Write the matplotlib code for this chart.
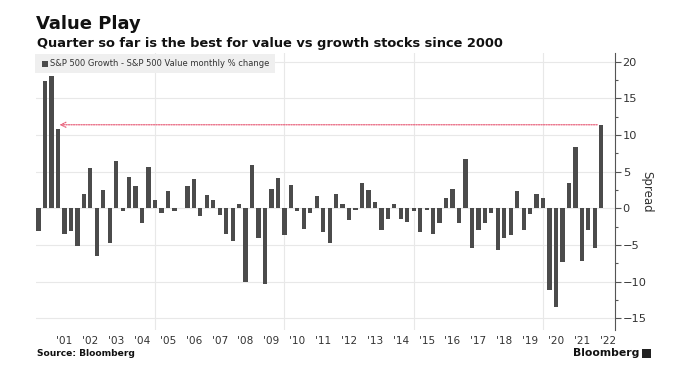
import numpy as np
import pandas as pd
import matplotlib
matplotlib.use("Agg")
import matplotlib.pyplot as plt
import matplotlib.patches as mpatches

# quarterly spread, S&P 500 Growth - S&P 500 Value (%), 2000Q2 .. 2022Q1
quarters = pd.period_range("2000Q2", "2022Q1", freq="Q")
spread = [
    -3.1, 17.4, 18.1, 10.8, -3.5, -3.1, -5.2, 2.0, 5.5, -6.5,
    2.5, -4.8, 6.5, -0.4, 4.3, 3.1, -2.0, 5.7, 1.2, -0.7,
    2.3, -0.4, 0.1, 3.1, 4.0, -1.0, 1.8, 1.2, -0.9, -3.5,
    -4.4, 0.6, -10.1, 5.9, -4.0, -10.3, 2.6, 4.1, -3.7, 3.2,
    -0.4, -2.8, -0.7, 1.7, -3.2, -4.8, 2.0, 0.6, -1.6, -0.2,
    3.5, 2.5, 0.8, -2.9, -1.4, 0.6, -1.4, -1.9, -0.4, -3.3,
    -0.2, -3.5, -2.0, 1.4, 2.7, -2.0, 6.7, -5.4, -3.0, -2.0,
    -0.7, -5.7, -4.0, -3.7, 2.4, -3.0, -0.8, 1.9, 1.4, -11.1,
    -13.5, -7.3, 3.4, 8.3, -7.2, -3.0, -5.4, 11.4,
]
year_labels = ["'%02d" % (y % 100) for y in range(2001, 2023)]
label_years = np.arange(2001, 2023) + 0.5
grid_years = [2005, 2010, 2015, 2020]
y_ticks = [-15, -10, -5, 0, 5, 10, 15, 20]

# bars sit at quarter end (decimal year)
x = np.array([q.year + q.quarter / 4.0 for q in quarters])

fig = plt.figure(figsize=(6.85, 3.81), dpi=100)
ax = fig.add_axes([0.0526, 0.134, 0.8452, 0.727])

ax.bar(x, spread, width=0.165, color="#4b4b4b", zorder=3)

ax.set_xlim(2000.40, 2022.78)
ax.set_ylim(-16.6, 21.2)

# grid
for gy in y_ticks:
    ax.axhline(gy, color="#e8e8e8", lw=0.8, zorder=1)
for gx in grid_years:
    ax.axvline(gx, color="#e8e8e8", lw=0.8, zorder=1)

ax.set_xticks(label_years)
ax.set_xticklabels(year_labels, fontsize=7.6, color="#333333")
ax.tick_params(axis="x", length=0, pad=4)

ax.yaxis.tick_right()
ax.yaxis.set_label_position("right")
ax.set_yticks(y_ticks)
ax.set_yticks(np.arange(-15, 21, 2.5), minor=True)
ax.tick_params(axis="y", which="major", length=4, width=0.8, color="#555555",
               labelsize=8.2, labelcolor="#333333", pad=1.5)
ax.tick_params(axis="y", which="minor", length=2.5, width=0.8, color="#555555")
ax.set_ylabel("Spread", rotation=270, fontsize=8.5, color="#333333", labelpad=5)

for side in ["top", "left", "bottom"]:
    ax.spines[side].set_visible(False)
ax.spines["right"].set_color("#555555")
ax.spines["right"].set_linewidth(0.8)

# red dotted arrow from last bar back to 2001
ax.annotate("", xy=(2001.2, spread[-1]), xytext=(x[-1] - 0.05, spread[-1]),
            arrowprops=dict(arrowstyle="->", color="#e8607a", lw=0.9,
                            linestyle=(0, (1, 1)), mutation_scale=9),
            zorder=4)

# legend box
fig.patches.append(mpatches.Rectangle((35 / 685, 1 - 72.5 / 381), 240 / 685, 18.5 / 381,
                                      transform=fig.transFigure, facecolor="#efefef",
                                      edgecolor="none", zorder=5))
fig.patches.append(mpatches.Rectangle((42 / 685, 1 - 66.5 / 381), 6 / 685, 6 / 381,
                                      transform=fig.transFigure, facecolor="#4b4b4b",
                                      edgecolor="none", zorder=6))
fig.text(50 / 685, 1 - 63.5 / 381, "S&P 500 Growth - S&P 500 Value monthly % change",
         fontsize=6.0, color="#333333", va="center", ha="left", zorder=7)

# titles
fig.text(36 / 685, 1 - 24 / 381, "Value Play", fontsize=13, fontweight="bold",
         color="#111111", va="center", ha="left")
fig.text(37 / 685, 1 - 43 / 381, "Quarter so far is the best for value vs growth stocks since 2000",
         fontsize=9.4, fontweight="bold", color="#111111", va="center", ha="left")

# footer
fig.text(37 / 685, 1 - 353 / 381, "Source: Bloomberg", fontsize=6.6, fontweight="bold",
         color="#111111", va="center", ha="left")
fig.text(639 / 685, 1 - 353 / 381, "Bloomberg", fontsize=7.8, fontweight="bold",
         color="#111111", va="center", ha="right")
fig.patches.append(mpatches.Rectangle((642 / 685, 1 - 357.5 / 381), 9 / 685, 9 / 381,
                                      transform=fig.transFigure, facecolor="#222222",
                                      edgecolor="none"))

fig.savefig("out.png", dpi=100, facecolor="white")
